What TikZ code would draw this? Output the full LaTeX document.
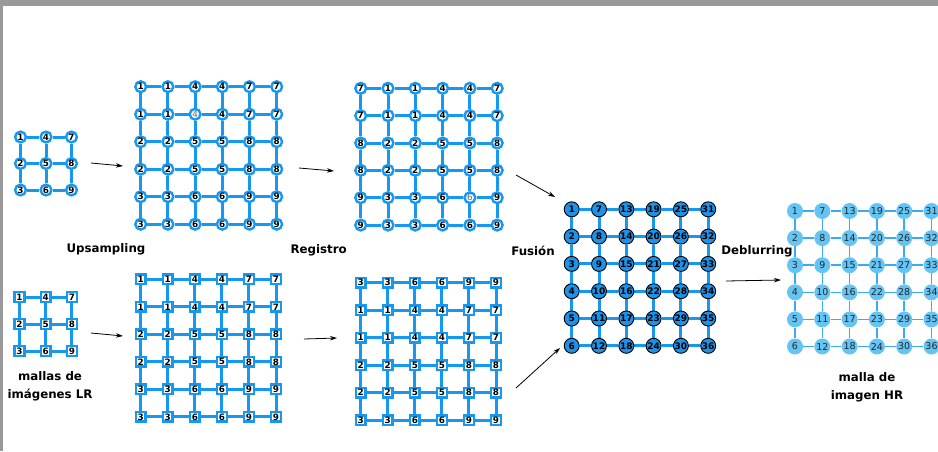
\documentclass[tikz,border=0pt]{standalone}
\usepackage{fontspec}
\setmainfont{DejaVu Sans}
\usetikzlibrary{arrows.meta}
\definecolor{gblue}{RGB}{22,152,240}
\definecolor{fblue}{RGB}{30,145,232}
\definecolor{lblue}{RGB}{100,197,245}
\definecolor{lline}{RGB}{60,170,240}
\definecolor{framegray}{RGB}{153,153,153}
\pgfdeclarelayer{edges}
\pgfsetlayers{edges,main}
\newcommand\gtxt[1]{\textcolor{black!60}{\mdseries #1}}
\tikzset{
 gline/.style={draw=gblue, line width=3pt},
 hline/.style={draw=lline, line width=1.6pt},
 cnode/.style={circle, draw=gblue, line width=2.4pt, fill=white, minimum size=10.8pt, inner sep=0pt, font=\fontsize{8.8}{9}\selectfont\bfseries},
 snode/.style={rectangle, draw=gblue, line width=2.5pt, fill=white, minimum size=9.8pt, inner sep=0pt, font=\fontsize{8.8}{9}\selectfont\bfseries},
 fnode/.style={circle, draw=black, line width=0.9pt, fill=fblue, minimum size=15pt, inner sep=0pt, font=\fontsize{9}{9}\selectfont\bfseries},
 hnode/.style={circle, fill=lblue, minimum size=16pt, inner sep=0pt, font=\fontsize{9.5}{10}\selectfont, text=black!85},
 lbl/.style={font=\fontsize{11.8}{17.5}\selectfont\bfseries, align=center},
 arr/.style={-{Stealth[length=7pt,width=4.5pt]}, line width=0.8pt},
}
% #1 name, #2 node style, #3 x0, #4 dx, #5 y0, #6 dy, #7 N, #8 line style, #9 rows
\newcommand\mygrid[9]{%
  \foreach \rowvals [count=\r] in {#9} {
    \foreach \v [count=\c] in \rowvals {
      \node[#2] (#1-\r-\c) at ({#3+(\c-1)*#4}, {#5+(\r-1)*#6}) {\v};
    }
  }
  \begin{pgfonlayer}{edges}
  \foreach \r in {1,...,#7} {
    \foreach \c [evaluate=\c as \cp using int(\c-1)] in {2,...,#7} {
      \draw[#8] (#1-\r-\cp) -- (#1-\r-\c);
      \draw[#8] (#1-\cp-\r) -- (#1-\c-\r);
    }
  }
  \end{pgfonlayer}
}
\begin{document}
\begin{tikzpicture}[x=1pt,y=-1pt]
\useasboundingbox (0,0) rectangle (938,451);
\fill[framegray] (0,0) rectangle (938,6);
\fill[framegray] (0,0) rectangle (2.6,451);

% small LR grids
\mygrid{s1}{cnode}{20.5}{25.5}{137}{26.5}{3}{gline}{{1,4,7},{2,5,8},{3,6,9}}
\mygrid{s2}{snode}{19.5}{26.2}{297}{27}{3}{gline}{{1,4,7},{2,5,8},{3,6,9}}

% upsampled
\mygrid{u1}{cnode}{140.7}{27.2}{86.7}{27.5}{6}{gline}{{1,1,4,4,7,7},{1,1,\gtxt{4},4,7,7},{2,2,5,5,8,8},{2,2,5,5,8,8},{3,3,6,6,9,9},{3,3,6,6,9,9}}
\mygrid{u2}{snode}{140.7}{27.06}{279.3}{27.5}{6}{gline}{{1,1,4,4,7,7},{1,1,4,4,7,7},{2,2,5,5,8,8},{2,2,5,5,8,8},{3,3,6,6,9,9},{3,3,6,6,9,9}}

% registered
\mygrid{r1}{cnode}{360.7}{27.3}{88.3}{27.35}{6}{gline}{{7,1,1,4,4,7},{7,1,1,4,4,7},{8,2,2,5,5,8},{8,2,2,5,5,8},{9,3,3,6,\gtxt{6},9},{9,3,3,6,6,9}}
\mygrid{r2}{snode}{360.7}{27.06}{282.7}{27.5}{6}{gline}{{3,3,6,6,9,9},{1,1,4,4,7,7},{1,1,4,4,7,7},{2,2,5,5,8,8},{2,2,5,5,8,8},{3,3,6,6,9,9}}

% fusion
\mygrid{f}{fnode}{571.7}{27.3}{209.3}{27.3}{6}{gline}{{1,7,13,19,25,31},{2,8,14,20,26,32},{3,9,15,21,27,33},{4,10,16,22,28,34},{5,11,17,23,29,35},{6,12,18,24,30,36}}

% HR
\mygrid{h}{hnode}{795}{27.3}{211}{27.1}{6}{hline}{{1,7,13,19,25,31},{2,8,14,20,26,32},{3,9,15,21,27,33},{4,10,16,22,28,34},{5,11,17,23,29,35},{6,12,18,24,30,36}}

% labels
\node[lbl] (lup) at (106,249) {Upsampling};
\node[lbl] (lreg) at (318.7,250.5) {Registro};
\node[lbl] (lfus) at (533,250.5) {Fusión};
\node[lbl] (ldeb) at (757,251) {Deblurring};
\node[lbl] (llr) at (50,386.5) {mallas de\\imágenes LR};
\node[lbl] (lhr) at (867,387.5) {malla de\\imagen HR};

% arrows
\coordinate (a1s) at (91,163);  \coordinate (a1e) at (123,166);
\coordinate (a2s) at (299,168); \coordinate (a2e) at (334,171);
\coordinate (a3s) at (516,175); \coordinate (a3e) at (555,197);
\coordinate (a4s) at (516,388); \coordinate (a4e) at (560,348);
\coordinate (a5s) at (726,281); \coordinate (a5e) at (781,280);
\coordinate (a6s) at (91,333);  \coordinate (a6e) at (123,336);
\coordinate (a7s) at (304,339); \coordinate (a7e) at (337,338);
\foreach \i in {1,...,7} \draw[arr] (a\i s) -- (a\i e);
\end{tikzpicture}
\end{document}
